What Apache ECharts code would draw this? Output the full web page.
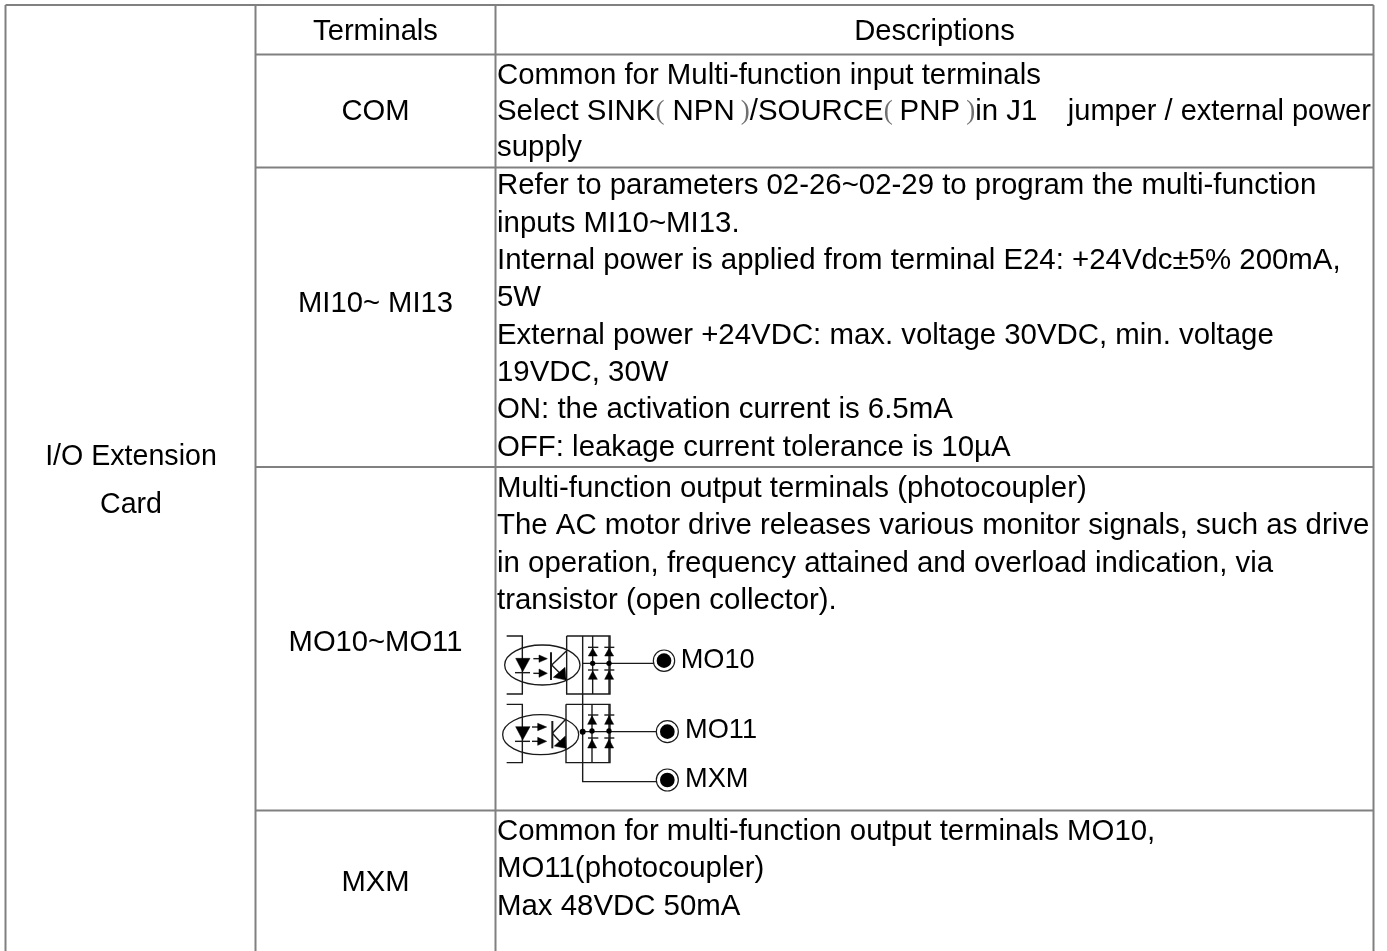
<!DOCTYPE html>
<html>
<head>
<meta charset="utf-8">
<style>html,body{margin:0;padding:0;background:#fff}#c{width:1387px;height:951px}</style>
<script src="https://cdn.jsdelivr.net/npm/echarts@6/dist/echarts.min.js"></script>
</head>
<body>
<div id="c"></div>
<script>
// ---- table content ----
const cardLabel = ['I/O Extension', 'Card'];
const headers = ['Terminals', 'Descriptions'];
const terminals = ['COM', 'MI10~ MI13', 'MO10~MO11', 'MXM'];
const comLines = [
  'Common for Multi-function input terminals',
  'Select SINK{p|(} NPN{s| }{p|)}/SOURCE{p|(}{m| }PNP{s| }{p|)}in J1   {s| }{j|jumper / external power}',
  'supply'
];
const miLines = [
  'Refer to parameters 02-26~02-29 to program the multi-function',
  'inputs MI10~MI13.',
  'Internal power is applied from terminal E24: +24Vdc\u00b15% 200mA,',
  '5W',
  'External power +24VDC: max. voltage 30VDC, min. voltage',
  '19VDC, 30W',
  'ON: the activation current is 6.5mA',
  'OFF: leakage current tolerance is 10\u00b5A'
];
const moLines = [
  'Multi-function output terminals (photocoupler)',
  'The AC motor drive releases various monitor signals, such as drive',
  'in operation, frequency attained and overload indication, via',
  'transistor (open collector).'
];
const mxmLines = [
  'Common for multi-function output terminals MO10,',
  'MO11(photocoupler)',
  'Max 48VDC 50mA'
];
const diagramLabels = ['MO10', 'MO11', 'MXM'];

// ---- table layout, in axis units ----
const colEdges = [5.5, 255.5, 495.5, 1373.5];
const rowEdges = [5, 54.5, 167.5, 467, 810.5];
const tableBottom = 951;
const cardBaselines = [466, 514];
const headerBaseline = 41;
const terminalBaselines = [121, 313, 652, 892];
const comBaselines = [85, 121, 157];
const miBaselines = [195, 233, 270, 307, 345, 382, 419, 457];
const moBaselines = [498, 535, 573, 610];
const mxmBaselines = [841, 878, 916];

// ---- schematic geometry, in schematic units (3 units = 1 axis unit) ----
const schematicOrigin = [490, 620];
const schematicScale = 1 / 3;
const wires = [
  [[50,48],[97,48],[97,222],[50,222]],
  [[230,48],[360,48],[360,222],[230,222],[230,48]],
  [[308,48],[308,222]],
  [[357,48],[357,222]],
  [[278,48],[278,485],[500,485]],
  [[278,130],[492,130]],
  [[185,135],[230,92]],
  [[185,135],[230,180]],
  [[75,158],[120,158]],
  [[294,82],[325,82]],[[343,82],[373,82]],
  [[294,150],[325,150]],[[343,150],[373,150]],
  [[130,116],[148,116]],[[130,160],[148,160]],
  [[50,253],[97,253],[97,428],[50,428]],
  [[228,253],[360,253],[360,428],[228,428],[228,253]],
  [[306,253],[306,428]],
  [[357,253],[357,428]],
  [[278,335],[500,335]],
  [[187,340],[228,297]],
  [[187,340],[228,385]],
  [[75,364],[120,364]],
  [[294,285],[325,285]],[[343,285],[373,285]],
  [[294,354],[325,354]],[[343,354],[373,354]],
  [[126,321],[145,321]],[[126,364],[145,364]]
];
const thickBars = [
  [[183,97],[183,180]],
  [[187,303],[187,385]]
];
const solids = [
  [[77,115],[120,115],[98,155]],
  [[147,105],[147,127],[172,116]],
  [[147,147],[147,172],[172,160]],
  [[190,172],[225,142],[228,180]],
  [[308,85],[295,108],[322,108]],
  [[357,85],[344,108],[371,108]],
  [[308,153],[295,178],[322,178]],
  [[357,153],[344,178],[371,178]],
  [[77,320],[120,320],[98,360]],
  [[143,310],[143,332],[170,321]],
  [[143,352],[143,376],[170,364]],
  [[193,378],[226,348],[228,385]],
  [[306,287],[293,313],[320,313]],
  [[357,287],[344,313],[371,313]],
  [[306,358],[293,384],[320,384]],
  [[357,358],[344,384],[371,384]]
];
const ellipses = [[157,135,113,60],[152,344,114,60]];
const dots = [[308,130,8],[357,130,8],[278,335,9],[306,333,8],[357,333,8]];
const terminalRings = [[522,122,32,22],[532,335,33,22],[532,480,33,22]];
const diagramLabelAnchors = [[572,147],[585,358],[585,505]];

// ---- styles ----
const FONT = '"Liberation Sans", Arial, sans-serif';
const SIZE_CARD = 28.6;
const SIZE_HEAD = 29.2;
const SIZE_BODY = 29.4;
const SIZE_DIAGRAM = 27.2;
const GRID_COLOR = '#808080';
const INK = '#000000';
const WIRE = '#1a1a1a';
const baselineShift = 0.32; // baseline to text middle, in em

function textItem(api, text, x, baseline, align, size) {
  const fs = size;
  const p = api.coord([x, baseline - fs * baselineShift]);
  return {
    type: 'text',
    style: {
      text: text,
      x: p[0], y: p[1],
      fill: INK,
      font: fs + 'px ' + FONT,
      fontSize: fs,
      fontFamily: FONT,
      align: align,
      verticalAlign: 'middle',
      rich: {
        p: { fontFamily: '"Liberation Serif"', fontSize: 27, fill: '#707070' },
        s: { fontFamily: FONT, fontSize: 22, fill: INK },
        m: { fontFamily: FONT, fontSize: 25, fill: INK },
        j: { fontFamily: FONT, fontSize: 29, fill: INK }
      }
    }
  };
}
const sx = u => schematicOrigin[0] + u * schematicScale;
const sy = u => schematicOrigin[1] + u * schematicScale;

// rows of the text table
const textRows = [];
cardLabel.forEach((t, i) => textRows.push([t, (colEdges[0] + colEdges[1]) / 2 + 0.5, cardBaselines[i], 'center', SIZE_CARD]));
headers.forEach((t, i) => textRows.push([t, (colEdges[i + 1] + colEdges[i + 2]) / 2, headerBaseline, 'center', SIZE_HEAD]));
terminals.forEach((t, i) => textRows.push([t, (colEdges[1] + colEdges[2]) / 2, terminalBaselines[i], 'center', SIZE_HEAD]));
[[comLines, comBaselines], [miLines, miBaselines], [moLines, moBaselines], [mxmLines, mxmBaselines]]
  .forEach(([lines, bases]) => lines.forEach((t, i) => textRows.push([t, colEdges[2] + 1.5, bases[i], 'left', SIZE_BODY])));

// grid segments
const gridSegments = [];
gridSegments.push([colEdges[0], rowEdges[0], colEdges[3], rowEdges[0]]);
[rowEdges[1], rowEdges[2], rowEdges[3], rowEdges[4]].forEach(y => gridSegments.push([colEdges[1], y, colEdges[3], y]));
gridSegments.push([colEdges[0], rowEdges[0], colEdges[0], tableBottom]);
gridSegments.push([colEdges[1], rowEdges[0], colEdges[1], tableBottom]);
gridSegments.push([colEdges[2], rowEdges[0], colEdges[2], tableBottom]);
gridSegments.push([colEdges[3], rowEdges[0], colEdges[3], tableBottom]);

// schematic primitives
const prims = [];
ellipses.forEach(e => prims.push(['ellipse', e]));
wires.forEach(w => prims.push(['wire', w]));
thickBars.forEach(w => prims.push(['bar', w]));
solids.forEach(s => prims.push(['solid', s]));
dots.forEach(d => prims.push(['dot', d]));
terminalRings.forEach(r => prims.push(['ring', r]));

function renderPrim(params, api) {
  const [kind, v] = prims[api.value(0)];
  const toPts = arr => arr.map(p => api.coord([sx(p[0]), sy(p[1])]));
  if (kind === 'ellipse') {
    const c = api.coord([sx(v[0]), sy(v[1])]);
    const e = api.coord([sx(v[0] + v[2]), sy(v[1] + v[3])]);
    return { type: 'ellipse', shape: { cx: c[0], cy: c[1], rx: e[0] - c[0], ry: e[1] - c[1] },
      style: { fill: 'none', stroke: WIRE, lineWidth: 1.3 } };
  }
  if (kind === 'wire') {
    return { type: 'polyline', shape: { points: toPts(v) }, style: { fill: 'none', stroke: WIRE, lineWidth: 1.4 } };
  }
  if (kind === 'bar') {
    return { type: 'polyline', shape: { points: toPts(v) }, style: { fill: 'none', stroke: WIRE, lineWidth: 2 } };
  }
  if (kind === 'solid') {
    return { type: 'polygon', shape: { points: toPts(v) }, style: { fill: INK, stroke: INK, lineWidth: 0.5 } };
  }
  const c = api.coord([sx(v[0]), sy(v[1])]);
  if (kind === 'dot') {
    return { type: 'circle', shape: { cx: c[0], cy: c[1], r: v[2] * schematicScale }, style: { fill: INK } };
  }
  return { type: 'group', children: [
    { type: 'circle', shape: { cx: c[0], cy: c[1], r: v[2] * schematicScale }, style: { fill: '#fff', stroke: WIRE, lineWidth: 1.2 } },
    { type: 'circle', shape: { cx: c[0], cy: c[1], r: v[3] * schematicScale }, style: { fill: INK } }
  ] };
}

const chart = echarts.init(document.getElementById('c'), null, { renderer: 'canvas' });
chart.setOption({
  animation: false,
  backgroundColor: '#ffffff',
  tooltip: { show: false },
  grid: { left: 0, right: 0, top: 0, bottom: 0 },
  xAxis: { type: 'value', min: 0, max: 1387, show: false },
  yAxis: { type: 'value', min: 0, max: 951, inverse: true, show: false },
  series: [
    {
      name: 'table rules', type: 'custom', coordinateSystem: 'cartesian2d', silent: true, clip: false,
      data: gridSegments,
      renderItem: (params, api) => {
        const a = api.coord([api.value(0), api.value(1)]);
        const b = api.coord([api.value(2), api.value(3)]);
        return { type: 'line', shape: { x1: a[0], y1: a[1], x2: b[0], y2: b[1] },
          style: { stroke: GRID_COLOR, lineWidth: 2 } };
      }
    },
    {
      name: 'schematic', type: 'custom', coordinateSystem: 'cartesian2d', silent: true, clip: false,
      encode: { x: 1, y: 2 },
      data: prims.map((p, i) => [i, 600, 700]),
      renderItem: renderPrim
    },
    {
      name: 'schematic labels', type: 'custom', coordinateSystem: 'cartesian2d', silent: true, clip: false,
      encode: { x: 1, y: 2 },
      data: diagramLabels.map((t, i) => [i, 600, 700]),
      renderItem: (params, api) => {
        const i = api.value(0), a = diagramLabelAnchors[i];
        return textItem(api, diagramLabels[i], sx(a[0]), sy(a[1]), 'left', SIZE_DIAGRAM);
      }
    },
    {
      name: 'cell text', type: 'custom', coordinateSystem: 'cartesian2d', silent: true, clip: false,
      encode: { x: 1, y: 2 },
      data: textRows.map((r, i) => [i, r[1], r[2]]),
      renderItem: (params, api) => {
        const r = textRows[api.value(0)];
        return textItem(api, r[0], r[1], r[2], r[3], r[4]);
      }
    }
  ]
});
</script>
</body>
</html>
